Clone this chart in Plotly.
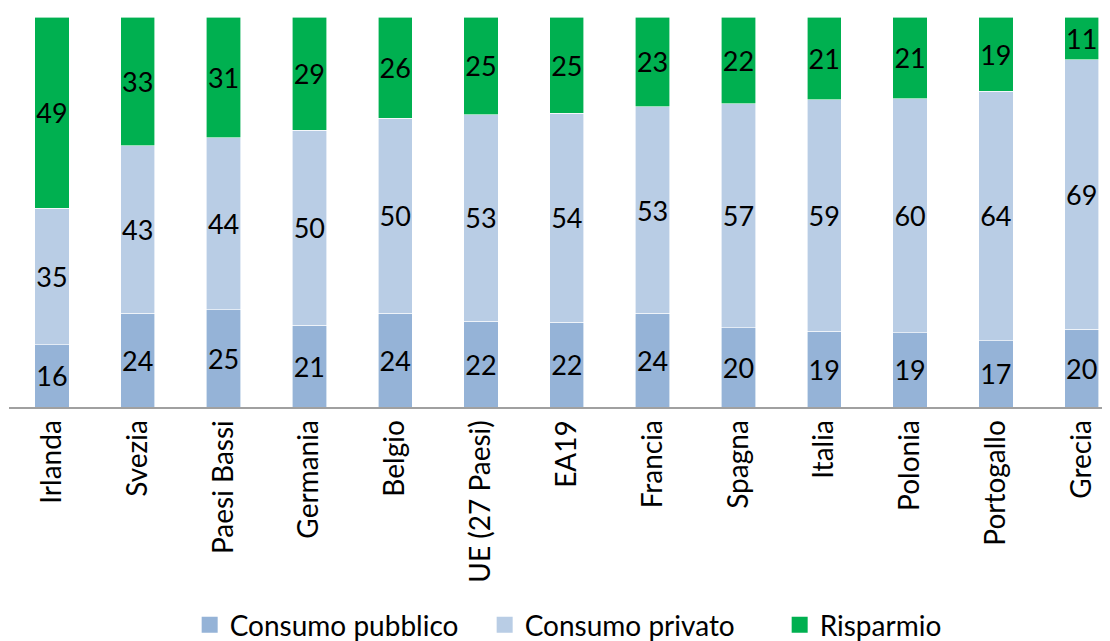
import plotly.graph_objects as go

paesi = ["Irlanda", "Svezia", "Paesi Bassi", "Germania", "Belgio", "UE (27 Paesi)",
         "EA19", "Francia", "Spagna", "Italia", "Polonia", "Portogallo", "Grecia"]
# quote in % (arrotondate in etichetta)
consumo_pubblico = [16, 24, 25, 21, 24, 22, 21.7, 24, 20.3, 19.4, 19, 17, 20]
consumo_privato = [35, 43, 44, 50, 50, 53, 53.6, 53, 57.4, 59.4, 60, 64, 69]
risparmio = [49, 33, 31, 29, 26, 25, 24.7, 23, 22.3, 21.2, 21, 19, 11]

FONT = "Lato, Carlito, Calibri, 'Open Sans', sans-serif"

serie = [
    ("Consumo pubblico", consumo_pubblico, "#95B3D7"),
    ("Consumo privato", consumo_privato, "#B9CDE5"),
    ("Risparmio", risparmio, "#00B050"),
]

fig = go.Figure()
for nome, valori, colore in serie:
    fig.add_trace(go.Bar(
        x=paesi,
        y=valori,
        name=nome,
        showlegend=False,
        marker=dict(color=colore, line=dict(color="white", width=0.6)),
        width=0.4,
        texttemplate="%{y:.0f}",
        textposition="inside",
        insidetextanchor="middle",
        textangle=0,
        textfont=dict(family=FONT, size=27, color="black"),
        hoverinfo="skip",
    ))

# voci di legenda con quadrati più grandi
for nome, valori, colore in serie:
    fig.add_trace(go.Scatter(
        x=[paesi[0]], y=[None],
        mode="markers",
        name=nome,
        marker=dict(symbol="square", size=16, color=colore),
        hoverinfo="skip",
    ))

# la pagina ha 8px di margine: la figura sborda in basso, come l'originale
fig.update_layout(
    barmode="stack",
    width=1102,
    height=660,
    margin=dict(l=1, r=0, t=9, b=261),
    plot_bgcolor="white",
    paper_bgcolor="white",
    font=dict(family=FONT, size=28, color="black"),
    uniformtext=dict(minsize=27, mode="show"),
    showlegend=True,
    legend=dict(
        orientation="h",
        x=0.566, xanchor="center",
        y=-0.559, yanchor="middle",
        font=dict(family=FONT, size=28, color="black"),
        itemwidth=30,
        entrywidth=250,
        traceorder="normal",
    ),
    xaxis=dict(
        range=[-0.5, 12.33],
        tickangle=-90,
        showline=True,
        linecolor="#A0A0A0",
        linewidth=2,
        ticks="",
        showgrid=False,
        tickfont=dict(family=FONT, size=28, color="black"),
    ),
    yaxis=dict(
        range=[0, 100],
        visible=False,
        showgrid=False,
    ),
)

fig.write_html("out.html")
